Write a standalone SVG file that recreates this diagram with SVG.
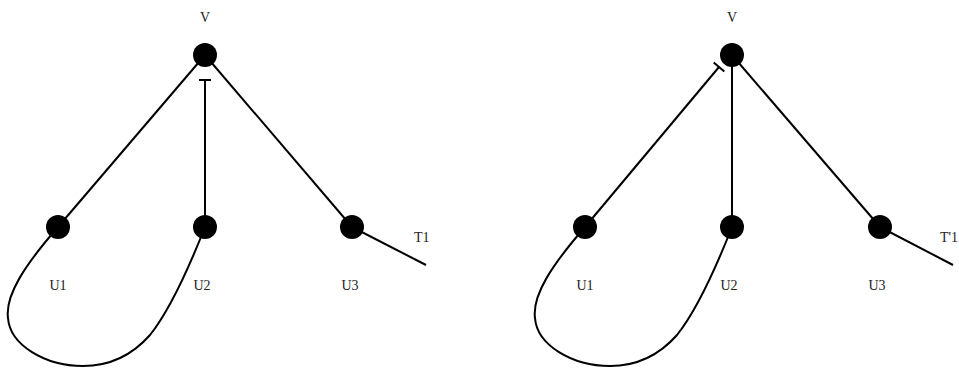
<svg xmlns="http://www.w3.org/2000/svg" width="959" height="369" viewBox="0 0 959 369">
<style>
.e{fill:none;stroke:#000;stroke-width:2}
.n{fill:#000}
.t{font-family:"Liberation Serif",serif;font-size:14px;fill:#222}
</style>
<rect width="959" height="369" fill="#fff"/>
<g id="connectors">
<line class="e" x1="205" y1="55" x2="58" y2="227"/>
<line class="e" x1="205" y1="80" x2="205" y2="227"/>
<line class="e" x1="199" y1="80" x2="211" y2="80"/>
<line class="e" x1="205" y1="55" x2="352" y2="227"/>
<line class="e" x1="352" y1="227" x2="426" y2="265"/>
<path class="e" d="M58,227 C25,265 5,295 8,318 C10,345 45,366 83,366 C115,366 135,352 150,335 C170,310 190,265 205,227"/>
<line class="e" x1="719" y1="67" x2="585" y2="227"/>
<line class="e" x1="713.7" y1="62.5" x2="724.3" y2="71.5"/>
<line class="e" x1="732" y1="55" x2="732" y2="227"/>
<line class="e" x1="732" y1="55" x2="880" y2="227"/>
<line class="e" x1="880" y1="227" x2="953" y2="265"/>
<path class="e" d="M585,227 C552,265 532,295 535,318 C537,345 572,366 610,366 C642,366 662,352 677,335 C697,310 717,265 732,227"/>
</g>
<g id="V_L"><circle class="n" cx="205" cy="55" r="12"/><text class="t" x="205" y="22" text-anchor="middle">V</text></g>
<g id="U1_L"><circle class="n" cx="58" cy="227" r="12"/><text class="t" x="58" y="290" text-anchor="middle">U1</text></g>
<g id="U2_L"><circle class="n" cx="205" cy="227" r="12"/><text class="t" x="202" y="290" text-anchor="middle">U2</text></g>
<g id="U3_L"><circle class="n" cx="352" cy="227" r="12"/><text class="t" x="350" y="290" text-anchor="middle">U3</text></g>
<g id="T1_L"><text class="t" x="414" y="242">T1</text></g>
<g id="V_R"><circle class="n" cx="732" cy="55" r="12"/><text class="t" x="732" y="22" text-anchor="middle">V</text></g>
<g id="U1_R"><circle class="n" cx="585" cy="227" r="12"/><text class="t" x="585" y="290" text-anchor="middle">U1</text></g>
<g id="U2_R"><circle class="n" cx="732" cy="227" r="12"/><text class="t" x="729" y="290" text-anchor="middle">U2</text></g>
<g id="U3_R"><circle class="n" cx="880" cy="227" r="12"/><text class="t" x="877" y="290" text-anchor="middle">U3</text></g>
<g id="T1_R"><text class="t" x="940" y="242">T'1</text></g>
</svg>
